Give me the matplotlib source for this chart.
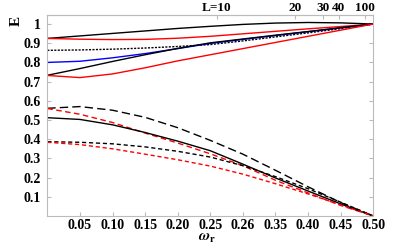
import matplotlib
matplotlib.use("Agg")
import matplotlib.pyplot as plt

plt.rcParams['font.family'] = ['Liberation Serif', 'DejaVu Serif']
plt.rcParams['font.weight'] = 'bold'
plt.rcParams['mathtext.fontset'] = 'stix'

# sample points along omega_r
omega = [0.0, 0.05, 0.10, 0.15, 0.20, 0.25, 0.30, 0.35, 0.40, 0.45, 0.50]

# upper group (all meet E=1 at omega_r=0.5)
black_top = [0.925, 0.938, 0.951, 0.964, 0.977, 0.988, 0.998, 1.005, 1.008, 1.006, 1.0]
red_top = [0.925, 0.921, 0.919, 0.920, 0.926, 0.936, 0.949, 0.962, 0.975, 0.987, 1.0]
black_dotted = [0.863, 0.865, 0.869, 0.875, 0.883, 0.893, 0.912, 0.933, 0.954, 0.976, 1.0]
blue_mid = [0.800, 0.806, 0.824, 0.846, 0.872, 0.899, 0.920, 0.940, 0.960, 0.980, 1.0]
black_low = [0.733, 0.768, 0.805, 0.840, 0.873, 0.902, 0.922, 0.942, 0.961, 0.981, 1.0]
red_low = [0.732, 0.721, 0.740, 0.772, 0.808, 0.840, 0.872, 0.904, 0.936, 0.968, 1.0]

# lower group (all meet E=0 at omega_r=0.5)
black_longdash = [0.561, 0.570, 0.551, 0.514, 0.460, 0.394, 0.322, 0.238, 0.152, 0.070, 0.0]
red_dash = [0.560, 0.530, 0.487, 0.432, 0.380, 0.324, 0.262, 0.186, 0.120, 0.055, 0.0]
black_solid = [0.512, 0.503, 0.475, 0.435, 0.390, 0.340, 0.270, 0.198, 0.130, 0.063, 0.0]
black_shortdash = [0.387, 0.384, 0.376, 0.360, 0.337, 0.307, 0.262, 0.205, 0.142, 0.072, 0.0]
red_shortdash = [0.384, 0.372, 0.350, 0.322, 0.293, 0.260, 0.218, 0.168, 0.115, 0.058, 0.0]

xticks = [0.05, 0.10, 0.15, 0.20, 0.25, 0.30, 0.35, 0.40, 0.45, 0.50]
xtick_labels = ['0.05', '0.10', '0.15', '0.20', '0.25', '0.26', '0.35', '0.40', '0.45', '0.50']
yticks = [0.1, 0.2, 0.3, 0.4, 0.5, 0.6, 0.7, 0.8, 0.9, 1.0]
ytick_labels = ['0.1', '0.2', '0.3', '0.4', '0.5', '0.6', '0.7', '0.8', '0.9', '1']
top_ticks = [0.260, 0.380, 0.423, 0.447, 0.487]
top_labels = ['L=10', '20', '30', '40', '100']

fig = plt.figure(figsize=(3.95, 2.44), dpi=100)
ax = fig.add_axes([0.1198, 0.1148, 0.8252, 0.8237])

lw = 1.0
ax.plot(omega, black_top, color='black', lw=lw)
ax.plot(omega, red_top, color='red', lw=lw)
ax.plot(omega, black_dotted, color='black', lw=lw, dashes=(1.5, 1))
ax.plot(omega, blue_mid, color='blue', lw=lw)
ax.plot(omega, black_low, color='black', lw=lw)
ax.plot(omega, red_low, color='red', lw=lw)

ax.plot(omega, black_longdash, color='black', lw=lw, dashes=(6, 3))
ax.plot(omega, red_dash, color='red', lw=lw, dashes=(4, 2.5))
ax.plot(omega, black_solid, color='black', lw=lw)
ax.plot(omega, black_shortdash, color='black', lw=lw, dashes=(3, 2))
ax.plot(omega, red_shortdash, color='red', lw=lw, dashes=(3, 2))

ax.set_xlim(0, 0.5)
ax.set_ylim(0, 1.047)

grey = '#bbbbbb'
for s in ax.spines.values():
    s.set_color(grey)
    s.set_linewidth(0.8)

fs = 10
ax.set_xticks(xticks)
ax.set_xticklabels(xtick_labels)
ax.set_yticks(yticks)
ax.set_yticklabels(ytick_labels)
ax.tick_params(axis='both', direction='in', length=3, color=grey, labelsize=fs)
ax.tick_params(axis='x', pad=2)
ax.tick_params(axis='y', pad=5, right=True)
for lab in ax.get_xticklabels() + ax.get_yticklabels():
    lab.set_fontweight('bold')

top = ax.secondary_xaxis('top')
top.set_xticks(top_ticks)
top.set_xticklabels(top_labels)
top.spines['top'].set_color(grey)
top.tick_params(direction='in', length=3, color=grey, labelsize=9.5, pad=1)
for lab in top.get_xticklabels():
    lab.set_fontweight('bold')

fig.text(16 / 395, 1 - 21 / 244, 'E', rotation=90, ha='center', va='center',
         fontsize=11, fontweight='bold')
fig.text(207 / 395, 1 - 241 / 244, r'$\omega_{\mathbf{r}}$', ha='center', va='baseline',
         fontsize=11)

fig.savefig('out.png', dpi=100)
